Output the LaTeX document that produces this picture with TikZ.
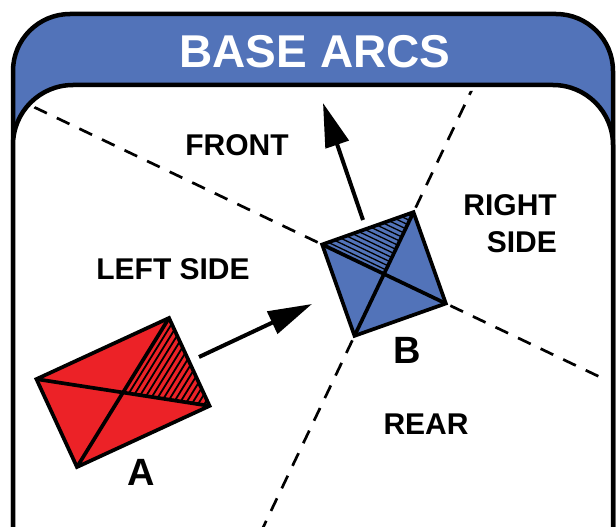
\documentclass[tikz,border=0pt]{standalone}
\usepackage{fontspec}
\setmainfont{Liberation Sans}
\usetikzlibrary{arrows.meta,calc}
\definecolor{bblue}{RGB}{82,115,185}
\definecolor{ared}{RGB}{236,34,39}
\begin{document}
\begin{tikzpicture}[x=1pt,y=-1pt,
  lbl/.style={font=\bfseries\fontsize{30}{37}\selectfont, anchor=base, inner sep=0pt},
  bigletter/.style={font=\bfseries\fontsize{38}{38}\selectfont, anchor=base, inner sep=0pt},
  frameline/.style={line width=4.5pt},
  shapeline/.style={line width=3.7pt, line join=miter},
  hatchA/.style={line width=1.8pt},
  hatchB/.style={line width=1.3pt},
  arcline/.style={dash pattern=on 14pt off 11pt, line width=2.7pt},
  bigarrow/.style={line width=4pt, -{Triangle[length=44pt,width=24pt]}}]
\useasboundingbox (0,0) rectangle (616,527);
\clip (0,0) rectangle (616,527);
% frame
\draw[frameline, fill=bblue, rounded corners=57pt] (13,14) rectangle (613,640);
\fill[white, rounded corners=60pt] (13,85) rectangle (613,640);
\node[font=\bfseries\fontsize{46}{46}\selectfont, text=white, anchor=base, inner sep=0pt] (title) at (315,68) {BASE ARCS};
% B geometry
\coordinate (Bc) at (384,274);
\coordinate (Btl) at ($(Bc)+(205.5:68.5)$);
\coordinate (Btr) at ($(Bc)+(295.5:68.5)$);
\coordinate (Bbr) at ($(Bc)+(25.5:68.5)$);
\coordinate (Bbl) at ($(Bc)+(115.5:68.5)$);
% dashed arc lines
\begin{scope}
  \clip[rounded corners=54pt] (19,91) rectangle (607,640);
  \draw[arcline] ($(Btl)!-5pt!(Bc)$) -- ($(Bc)!8!(Btl)$);
  \draw[arcline] ($(Btr)!-5pt!(Bc)$) -- ($(Bc)!8!(Btr)$);
  \draw[arcline] ($(Bbr)!-5pt!(Bc)$) -- ($(Bc)!8!(Bbr)$);
  \draw[arcline] ($(Bbl)!-5pt!(Bc)$) -- ($(Bc)!8!(Bbl)$);
\end{scope}
\draw[frameline, rounded corners=60pt] (13,85) rectangle (613,640);
% ship B
\fill[bblue] (Btl) -- (Btr) -- (Bbr) -- (Bbl) -- cycle;
\foreach \i [evaluate=\i as \t using \i/15] in {1,...,14}
  \draw[hatchB] ($(Bc)!\t!(Btr)$) -- ($(Btl)!\t!(Btr)$);
\draw[shapeline] (Btl) -- (Bbr) (Btr) -- (Bbl);
\draw[shapeline] (Btl) -- (Btr) -- (Bbr) -- (Bbl) -- cycle;
% ship A
\coordinate (Ac) at (123,392.5);
\coordinate (Ar) at ($(Ac)+(8.8:87.6)$);
\coordinate (At) at ($(Ac)+(301.7:87.6)$);
\coordinate (Al) at ($(Ac)+(188.8:87.6)$);
\coordinate (Ab) at ($(Ac)+(121.7:87.6)$);
\fill[ared] (Al) -- (At) -- (Ar) -- (Ab) -- cycle;
\foreach \i [evaluate=\i as \t using \i/15] in {1,...,14}
  \draw[hatchA] ($(Ac)!\t!(Ar)$) -- ($(At)!\t!(Ar)$);
\draw[shapeline] (Al) -- (Ar) (At) -- (Ab);
\draw[shapeline] (Al) -- (At) -- (Ar) -- (Ab) -- cycle;
% arrows
\coordinate (upTail) at (363,220);
\coordinate (upTip) at (323,103);
\draw[bigarrow] (upTail) -- (upTip);
\coordinate (abTail) at (199,357);
\coordinate (abTip) at (312,304);
\draw[bigarrow] (abTail) -- (abTip);
% labels
\node[lbl] (front) at (237,155) {FRONT};
\node[lbl] (left) at (173,279) {LEFT SIDE};
\node[lbl, align=right, anchor=north east] (right) at (557,194) {RIGHT\\SIDE};
\node[lbl] (rear) at (426,434) {REAR};
\node[bigletter] (labB) at (407,363) {B};
\node[bigletter] (labA) at (141,485) {A};
\end{tikzpicture}
\end{document}
